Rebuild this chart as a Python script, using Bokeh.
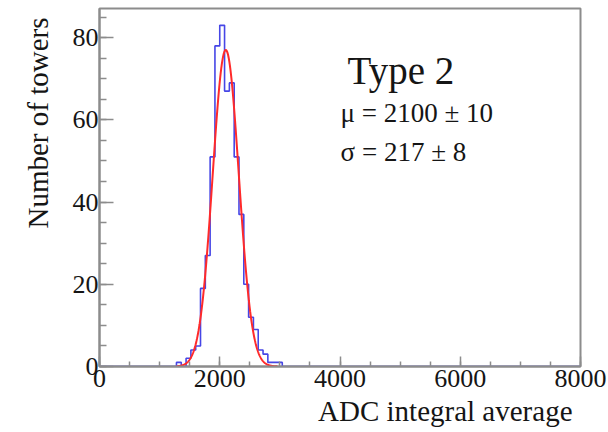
import numpy as np
from bokeh.plotting import figure
from bokeh.models import Label, FixedTicker, Title
from bokeh.embed import file_html
from bokeh.resources import INLINE

# ---- data ----
bin_width = 80
bin_starts = [1280, 1360, 1440, 1520, 1600, 1680, 1760, 1840, 1920, 2000, 2080,
              2160, 2240, 2320, 2400, 2480, 2560, 2640, 2720, 2800, 2880, 2960]
counts = [1, 0, 2, 4, 5, 19, 27, 51, 78, 83, 67,
          69, 51, 37, 20, 12, 9, 4, 3, 1, 1, 1]
fit_const = 77.0
fit_mu = 2100.0
fit_sigma = 217.0
fit_range = [1280, 2960]
x_ticks = [0, 2000, 4000, 6000, 8000]
y_ticks = [0, 20, 40, 60, 80]
title_text = "Type 2"
mu_text = "\u03bc = 2100 \u00b1 10"
sigma_text = "\u03c3 = 217 \u00b1 8"
x_label = "ADC integral average"
y_label = "Number of towers"

FONT = "Liberation Serif"
GRAY = "#8c8c8c"
TXT = "#151515"

p = figure(width=608, height=432, x_range=(0, 8000), y_range=(0, 87.1),
           output_backend="svg", toolbar_location=None,
           min_border_left=99, min_border_right=28, min_border_top=8, min_border_bottom=66)
p.background_fill_color = "white"
p.border_fill_color = "white"
p.xgrid.visible = False
p.ygrid.visible = False
p.outline_line_color = GRAY
p.outline_line_width = 2

# histogram outline
edges = list(range(0, 8000 + bin_width, bin_width))
full = [0] * (len(edges) - 1)
for s, c in zip(bin_starts, counts):
    full[s // bin_width] = c
ys = full + [full[-1]]
p.step(x=edges, y=ys, mode="after", line_color="#4646e6", line_width=1.6)

# gaussian fit
fx = np.linspace(fit_range[0], fit_range[1], 400)
fy = fit_const * np.exp(-0.5 * ((fx - fit_mu) / fit_sigma) ** 2)
p.line(fx, fy, line_color="#ff2a2a", line_width=2)

p.xaxis[0].ticker = FixedTicker(ticks=x_ticks, minor_ticks=list(range(0, 8001, 500)))
p.yaxis[0].ticker = FixedTicker(ticks=y_ticks, minor_ticks=list(range(0, 90, 5)))
for ax, minor_in, major_in in ((p.xaxis[0], 5, 10), (p.yaxis[0], 7, 14)):
    ax.axis_line_color = GRAY
    ax.axis_line_width = 2
    ax.major_tick_line_color = GRAY
    ax.minor_tick_line_color = GRAY
    ax.major_tick_line_width = 1.5
    ax.minor_tick_line_width = 1.5
    ax.major_tick_in = major_in
    ax.major_tick_out = 0
    ax.minor_tick_in = minor_in
    ax.minor_tick_out = 0
    ax.major_label_text_font = FONT
    ax.major_label_text_font_size = "26px"
    ax.major_label_text_color = TXT
p.xaxis.major_label_standoff = 3
p.yaxis.major_label_standoff = 1

# x axis title (side title so it is right-aligned)
p.add_layout(Title(text=x_label, align="right", offset=8, standoff=6,
                   text_font=FONT, text_font_size="29px", text_font_style="normal",
                   text_color=TXT), "below")
# y axis title
p.add_layout(Title(text=y_label, align="right", offset=9, standoff=28, vertical_align="top",
                   text_font=FONT, text_font_size="29px", text_font_style="normal",
                   text_color=TXT), "left")

# annotations
p.add_layout(Label(x=4126, y=72.0, text=title_text, text_font=FONT, text_font_size="39px",
                   text_color=TXT, text_baseline="alphabetic"))
p.add_layout(Label(x=4010, y=61.6, text=mu_text, text_font=FONT, text_font_size="27px",
                   text_color=TXT, text_baseline="alphabetic"))
p.add_layout(Label(x=4010, y=52.1, text=sigma_text, text_font=FONT, text_font_size="27px",
                   text_color=TXT, text_baseline="alphabetic"))

open("out.html", "w").write(file_html(p, INLINE))
